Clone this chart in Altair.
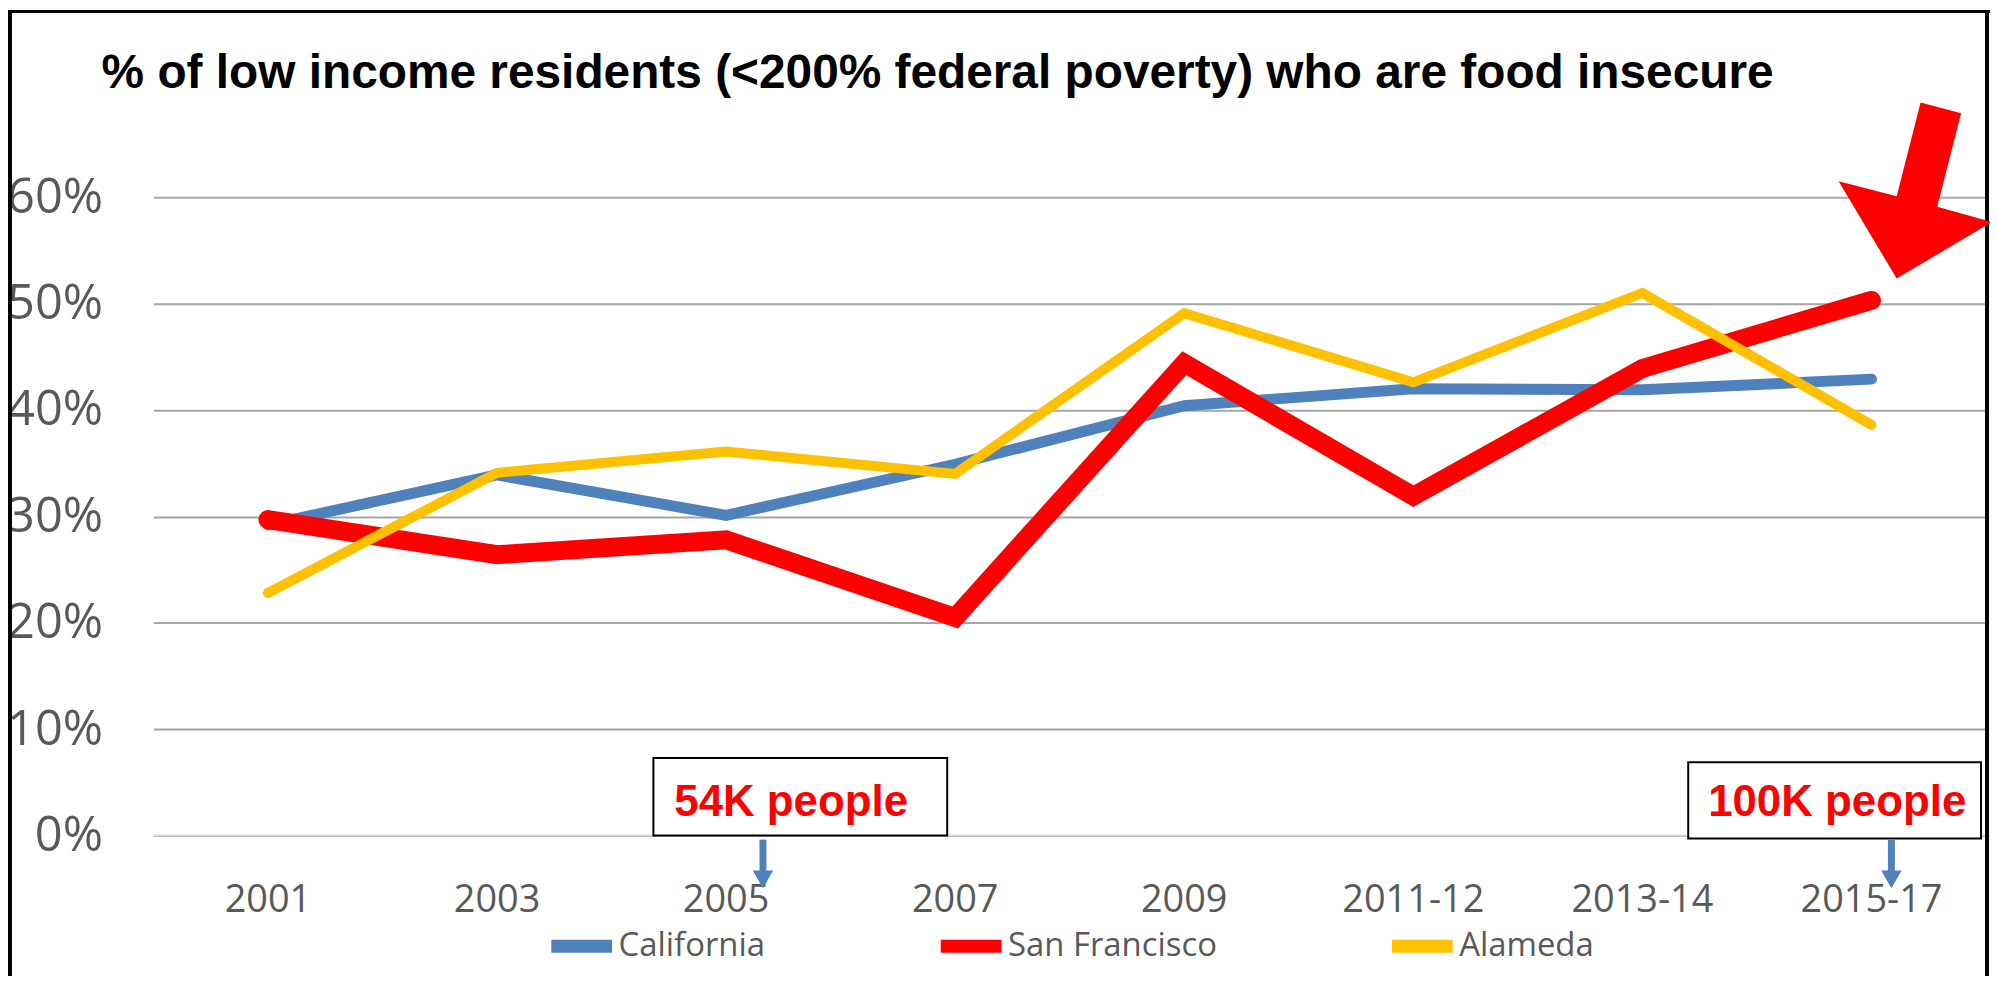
import altair as alt
import pandas as pd

# ---- data ----
CATEGORIES = ["2001", "2003", "2005", "2007", "2009", "2011-12", "2013-14", "2015-17"]
CALIFORNIA = [0.292, 0.339, 0.301, 0.349, 0.404, 0.420, 0.419, 0.429]
SAN_FRANCISCO = [0.297, 0.264, 0.278, 0.205, 0.444, 0.319, 0.439, 0.503]
ALAMEDA = [0.228, 0.341, 0.361, 0.340, 0.491, 0.426, 0.510, 0.386]
SERIES = ["California", "San Francisco", "Alameda"]
Y_TICKS = [0.0, 0.1, 0.2, 0.3, 0.4, 0.5, 0.6]
TITLE = "% of low income residents (<200% federal poverty) who are food insecure"
NOTE_LABELS = ["54K people", "100K people"]
NOTE_CATS = ["2005", "2015-17"]

# ---- styles ----
COLORS = ["#4F81BD", "#FF0000", "#FFC000"]
WIDTHS = [11, 19, 10]
GREY = "#595959"
LABEL_FONT = "Open Sans"
BOLD_FONT = "Liberation Sans"

X = alt.X(
    "cat:O",
    scale=alt.Scale(domain=CATEGORIES),
    axis=alt.Axis(
        labelAngle=0, labelFontSize=38, labelColor=GREY, labelFont=LABEL_FONT,
        labelPadding=46, ticks=False, domain=False, grid=False, title=None,
    ),
)
Y_SCALE = alt.Scale(domain=[0, 0.6], nice=False, zero=True)
Y = alt.Y(
    "value:Q",
    scale=Y_SCALE,
    axis=alt.Axis(
        values=Y_TICKS, format=".0%", labelFontSize=49, labelColor=GREY,
        labelFont=LABEL_FONT, labelPadding=51, ticks=False, domain=False,
        gridColor="#A6A6A6", gridWidth=2, title=None,
    ),
)

legend = alt.Legend(
    title=None, orient="none", legendX=393, legendY=715, direction="horizontal",
    symbolType="stroke", symbolSize=3721, symbolStrokeWidth=13, labelFontSize=33,
    labelColor=GREY, labelFont=LABEL_FONT, labelOffset=0, labelLimit=600,
    columnPadding=149, padding=0,
)
COLOR = alt.Color("series:N", scale=alt.Scale(domain=SERIES, range=COLORS), legend=legend)

# one line layer per series, drawn in series order (Alameda on top)
line_layers = []
for name, vals, w in zip(SERIES, [CALIFORNIA, SAN_FRANCISCO, ALAMEDA], WIDTHS):
    d = pd.DataFrame({"cat": CATEGORIES, "value": vals, "series": [name] * len(vals)})
    line_layers.append(
        alt.Chart(d).mark_line(strokeCap="round", strokeJoin="miter", strokeWidth=w)
        .encode(x=X, y=Y, color=COLOR)
    )

zero_line = alt.Chart(pd.DataFrame({"value": [0.0]})).mark_rule(
    color="#D9D9D9", strokeWidth=2
).encode(y=alt.Y("value:Q", scale=Y_SCALE))

# title as text
title = alt.Chart(pd.DataFrame({"t": [TITLE]})).mark_text(
    align="left", baseline="alphabetic", font=BOLD_FONT, fontWeight="bold",
    fontSize=48, color="black",
).encode(text="t:N", x=alt.value(-52), y=alt.value(-110))

# annotation boxes and labels
def note(label, cat, x_left, x_right, y_bottom_px, top_value, text_dx, arrow_dx):
    d = pd.DataFrame({"cat": [cat], "value": [0.0], "top": [top_value], "label": [label]})
    base = alt.Chart(d)
    box = base.mark_rect(
        fill="white", stroke="black", strokeWidth=2, xOffset=x_left, x2Offset=x_right,
        yOffset=y_bottom_px,
    ).encode(x=X, x2=alt.X2("cat"), y=alt.Y("value:Q", scale=Y_SCALE), y2=alt.Y2("top"))
    txt = base.mark_text(
        align="left", baseline="alphabetic", font=BOLD_FONT, fontWeight="bold",
        fontSize=44, color="#FF0000", xOffset=text_dx, yOffset=-20,
    ).encode(x=X, y=alt.Y("value:Q", scale=Y_SCALE), text="label:N")
    shaft = base.mark_rule(
        color="#4F81BD", strokeWidth=7, xOffset=arrow_dx, yOffset=4, y2Offset=36,
    ).encode(x=X, y=alt.Y("value:Q", scale=Y_SCALE), y2=alt.Y2("value"))
    head = base.mark_point(
        shape="triangle-down", size=420, filled=True, color="#4F81BD", opacity=1,
        xOffset=arrow_dx, yOffset=44,
    ).encode(x=X, y=alt.Y("value:Q", scale=Y_SCALE))
    return [box, txt, shaft, head]

note1 = note(NOTE_LABELS[0], NOTE_CATS[0], -73, 222, 0, 0.073, -52, 37)
note2 = note(NOTE_LABELS[1], NOTE_CATS[1], -184, 110, 3, 0.069, -164, 20)

# big red arrow pointing at the last San Francisco value
ARROW_PATH = ("M 0.063 -0.89 L 0.47 -0.783 L 0.23 0.157 L 0.78 0.31 "
              "L -0.177 0.877 L -0.76 -0.1 L -0.177 0.05 Z")
arrow = alt.Chart(pd.DataFrame({"cat": ["2015-17"], "value": [0.6]})).mark_point(
    shape=ARROW_PATH, size=40000, filled=True, color="#FF0000", opacity=1,
    strokeWidth=0, xOffset=43, yOffset=-6,
).encode(x=X, y=alt.Y("value:Q", scale=Y_SCALE))

# frame lines
frame_df = pd.DataFrame({"k": [0]})
left_border = alt.Chart(frame_df).mark_rule(color="black", strokeWidth=4).encode(
    x=alt.value(-144), y=alt.value(-188), y2=alt.value(782))
top_border = alt.Chart(frame_df).mark_rule(color="black", strokeWidth=3).encode(
    x=alt.value(-146), x2=alt.value(1844), y=alt.value(-186.5))
right_border = alt.Chart(frame_df).mark_rule(color="black", strokeWidth=4).encode(
    x=alt.value(1841), y=alt.value(-188), y2=alt.value(782))

chart = alt.layer(
    zero_line, *line_layers, *note1, *note2, left_border, top_border, right_border,
    arrow, title
).properties(
    width=1840, height=641,
    padding={"left": 146, "top": 188, "right": 4, "bottom": 141},
    autosize=alt.AutoSizeParams(type="none"),
    background="white",
).configure_view(strokeWidth=0)

chart.save("out.html", embed_options={"renderer": "svg", "actions": False})
